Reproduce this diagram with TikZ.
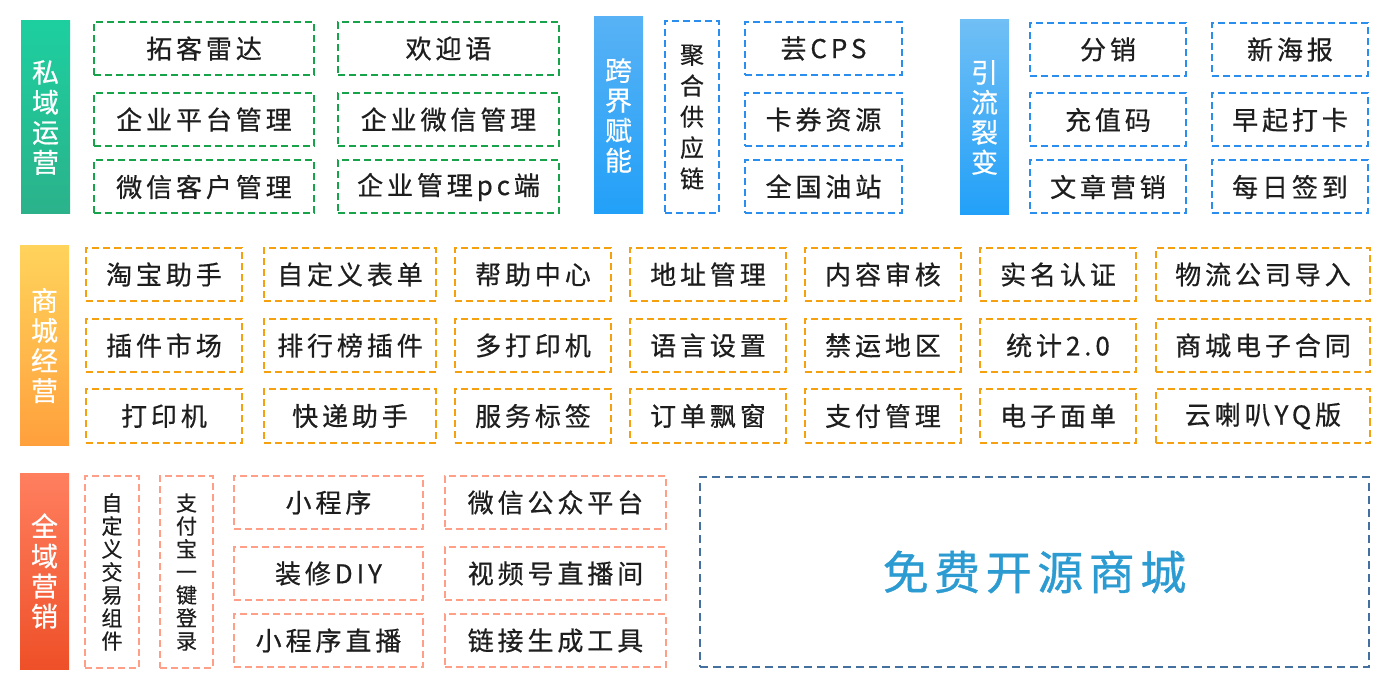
\documentclass[tikz,border=0pt]{standalone}
\usepackage{fontspec}
\setmainfont{Noto Sans CJK SC}[FakeBold=0.5]
\newfontfamily\cjkwide[LetterSpace=15, FakeBold=0.6]{Noto Sans CJK SC}
\newfontfamily\cjkbig[LetterSpace=12, FakeBold=0.8]{Noto Sans CJK SC}
\usetikzlibrary{positioning}

\definecolor{txtdark}{HTML}{1E1E1E}
\definecolor{grnline}{HTML}{16A34A}
\definecolor{bluline}{HTML}{2A8EEE}
\definecolor{orgline}{HTML}{F5A00F}
\definecolor{redline}{HTML}{FF9F87}
\definecolor{bigline}{HTML}{44709F}
\definecolor{bigtext}{HTML}{2B9BD1}

\begin{document}
\begin{tikzpicture}[
    x=1pt, y=-1pt,
    bar/.style={rectangle, minimum width=49pt, inner sep=0pt, align=center, text=white, font=\fontsize{27}{30}\selectfont},
    box/.style={rectangle, line width=2pt, dash pattern=on 7pt off 4pt, minimum height=53pt, inner sep=0pt, text=txtdark, font=\cjkwide\fontsize{26}{30}\selectfont},
    vbox/.style={box, minimum width=54pt, minimum height=192pt, align=center},
    gbox/.style={box, draw=grnline},
    bbox/.style={box, draw=bluline},
    obox/.style={box, draw=orgline},
    rbox/.style={box, draw=redline}
]
\useasboundingbox (0,0) rectangle (1395,700);

% row 1: private domain
\node [bar, minimum height=193pt, top color={rgb,255:red,29;green,207;blue,159}, bottom color={rgb,255:red,43;green,178;blue,139}] (siyu) at (45.5,117.5) {私\\域\\运\\营};
\node [gbox, minimum width=220pt] (tuoke) at (204,48.5) {拓客雷达};
\node [gbox, minimum width=220pt] (qypt) at (204,119.5) {企业平台管理};
\node [gbox, minimum width=220pt] (wxkh) at (204,187) {微信客户管理};
\node [gbox, minimum width=221pt] (huanying) at (448.5,48.5) {欢迎语};
\node [gbox, minimum width=221pt] (qywx) at (448.5,119.5) {企业微信管理};
\node [gbox, minimum width=221pt] (qypc) at (448.5,187) {企业管理pc端};

% row 1: cross-border
\node [bar, minimum height=197pt, top color={rgb,255:red,88;green,178;blue,245}, bottom color={rgb,255:red,34;green,160;blue,248}] (kuajie) at (618.5,115.5) {跨\\界\\赋\\能};
\node [vbox, draw=bluline, font=\fontsize{24}{31}\selectfont] (juhe) at (692,117) {聚\\合\\供\\应\\链};
\node [bbox, minimum width=157pt] (yuncps) at (823.5,48.5) {芸CPS};
\node [bbox, minimum width=157pt] (kajuan) at (823.5,119.5) {卡券资源};
\node [bbox, minimum width=157pt] (youzhan) at (823.5,186.5) {全国油站};

% row 1: traffic
\node [bar, minimum height=195pt, top color={rgb,255:red,112;green,191;blue,245}, bottom color={rgb,255:red,34;green,160;blue,248}] (yinliu) at (984.5,117.5) {引\\流\\裂\\变};
\node [bbox, minimum width=156pt] (fenxiao) at (1108,49.5) {分销};
\node [bbox, minimum width=156pt] (chongzhi) at (1108,120) {充值码};
\node [bbox, minimum width=156pt] (wenzhang) at (1108,187) {文章营销};
\node [bbox, minimum width=156pt] (haibao) at (1290,49.5) {新海报};
\node [bbox, minimum width=156pt] (daka) at (1290,120) {早起打卡};
\node [bbox, minimum width=156pt] (qiandao) at (1290,187) {每日签到};

% row 2: mall
\node [bar, minimum height=199pt, top color={rgb,255:red,255;green,211;blue,92}, bottom color={rgb,255:red,255;green,160;blue,60}] (shangcheng) at (44.5,345.5) {商\\城\\经\\营};
\node [obox, minimum width=156pt] (taobao) at (164,274.5) {淘宝助手};
\node [obox, minimum width=156pt] (chajian) at (164,345.5) {插件市场};
\node [obox, minimum width=156pt] (dayinji) at (164,416) {打印机};
\node [obox, minimum width=172pt] (biaodan) at (350,274.5) {自定义表单};
\node [obox, minimum width=172pt] (paihang) at (350,345.5) {排行榜插件};
\node [obox, minimum width=172pt] (kuaidi) at (350,416) {快递助手};
\node [obox, minimum width=156pt] (bangzhu) at (533,274.5) {帮助中心};
\node [obox, minimum width=156pt] (duoda) at (533,345.5) {多打印机};
\node [obox, minimum width=156pt] (fuwu) at (533,416) {服务标签};
\node [obox, minimum width=156pt] (dizhi) at (708,274.5) {地址管理};
\node [obox, minimum width=156pt] (yuyan) at (708,345.5) {语言设置};
\node [obox, minimum width=156pt] (piaochuang) at (708,416) {订单飘窗};
\node [obox, minimum width=156pt] (shenhe) at (883,274.5) {内容审核};
\node [obox, minimum width=156pt] (jinyun) at (883,345.5) {禁运地区};
\node [obox, minimum width=156pt] (zhifu) at (883,416) {支付管理};
\node [obox, minimum width=156pt] (shiming) at (1058,274.5) {实名认证};
\node [obox, minimum width=156pt] (tongji) at (1058,345.5) {统计2.0};
\node [obox, minimum width=156pt] (miandan) at (1058,416) {电子面单};
\node [obox, minimum width=214pt] (wuliu) at (1263,274.5) {物流公司导入};
\node [obox, minimum width=214pt] (hetong) at (1263,345.5) {商城电子合同};
\node [obox, minimum width=214pt] (laba) at (1263,416) {云喇叭YQ版};

% row 3: marketing
\node [bar, minimum height=196pt, top color={rgb,255:red,255;green,127;blue,95}, bottom color={rgb,255:red,238;green,80;blue,40}] (quanyu) at (44.5,571) {全\\域\\营\\销};
\node [vbox, draw=redline, font=\fontsize{21}{23}\selectfont] (jiaoyi) at (112,572) {自\\定\\义\\交\\易\\组\\件};
\node [vbox, draw=redline, minimum width=53pt, font=\fontsize{21}{23}\selectfont] (zhifubao) at (186.5,572) {支\\付\\宝\\一\\键\\登\\录};
\node [rbox, minimum width=189pt] (xcx) at (328.5,502.5) {小程序};
\node [rbox, minimum width=189pt] (zhuangxiu) at (328.5,573.5) {装修DIY};
\node [rbox, minimum width=189pt] (zhibo) at (328.5,640.5) {小程序直播};
\node [rbox, minimum width=221pt] (gongzhong) at (555.5,502.5) {微信公众平台};
\node [rbox, minimum width=221pt] (shipin) at (555.5,573.5) {视频号直播间};
\node [rbox, minimum width=221pt] (lianjie) at (555.5,640.5) {链接生成工具};

\node [rectangle, draw=bigline, line width=2.2pt, dash pattern=on 8pt off 5pt, minimum width=669pt, minimum height=190pt, text=bigtext, font=\cjkbig\fontsize{46}{50}\selectfont] (kaiyuan) at (1034.5,572) {免费开源商城};

\end{tikzpicture}
\end{document}
